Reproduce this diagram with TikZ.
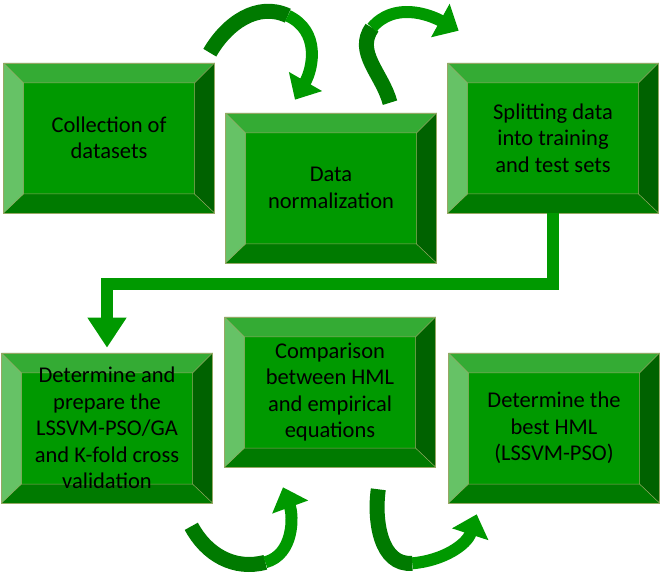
\documentclass[tikz,border=0pt]{standalone}
\usepackage{fontspec}
\setmainfont{Carlito}
\usetikzlibrary{arrows.meta, calc}

\definecolor{faceGreen}{RGB}{0,153,0}
\definecolor{topGreen}{RGB}{52,171,52}
\definecolor{leftGreen}{RGB}{102,194,102}
\definecolor{bottomGreen}{RGB}{0,122,0}
\definecolor{rightGreen}{RGB}{0,98,0}
\definecolor{rimOlive}{RGB}{150,168,100}
\definecolor{ribbonDark}{RGB}{0,122,0}

\tikzset{
  bevelbox/.style={minimum width=211pt, minimum height=150pt, inner sep=0pt,
    align=center, fill=faceGreen, draw=rimOlive, line width=0.6pt,
    font=\fontsize{22.5}{26.5}\selectfont,
    path picture={
      \coordinate (pA) at (path picture bounding box.north west);
      \coordinate (pB) at (path picture bounding box.north east);
      \coordinate (pC) at (path picture bounding box.south east);
      \coordinate (pD) at (path picture bounding box.south west);
      \coordinate (qA) at ($(pA)+(20,-20)$);
      \coordinate (qB) at ($(pB)+(-20,-20)$);
      \coordinate (qC) at ($(pC)+(-20,19)$);
      \coordinate (qD) at ($(pD)+(20,19)$);
      \fill[topGreen] (pA) -- (pB) -- (qB) -- (qA) -- cycle;
      \fill[rightGreen] (pB) -- (pC) -- (qC) -- (qB) -- cycle;
      \fill[bottomGreen] (pC) -- (pD) -- (qD) -- (qC) -- cycle;
      \fill[leftGreen] (pD) -- (pA) -- (qA) -- (qD) -- cycle;
      \draw[rimOlive, line width=0.5pt] (qA) rectangle (qC)
        (pA) -- (qA) (pB) -- (qB) (pC) -- (qC) (pD) -- (qD);
    }},
  ribbondark/.style={draw=ribbonDark, line width=15pt},
  ribbonlite/.style={draw=faceGreen, line width=12pt,
    -{Triangle[width=37pt,length=21pt]}},
  elbowarrow/.style={draw=faceGreen, line width=12pt,
    -{Triangle[width=37pt,length=30pt]}, shorten >=5pt},
}

\begin{document}
\begin{tikzpicture}[x=1pt,y=1pt]
  \useasboundingbox (0,0) rectangle (661,576);

  % Steps
  \node[bevelbox] (collect) at (109,438) {Collection of\\datasets};
  \node[bevelbox] (norm) at (331,388) {Data\\normalization};
  \node[bevelbox] (split) at (553,438) {Splitting data\\into training\\and test sets};
  \node[bevelbox] (prep) at (107,148) {Determine and\\prepare the\\LSSVM-PSO/GA\\and K-fold cross\\validation};
  \node[bevelbox] (compare) at (330,184) {Comparison\\between HML\\and empirical\\equations};
  \node[bevelbox] (best) at (554,148) {Determine the\\best HML\\(LSSVM-PSO)};

  % Ends of the curved arrows
  \coordinate (t1) at ($(collect.north east)+(-5,10)$);
  \coordinate (h1) at ($(norm.north)+(-36,13)$);
  \coordinate (t2) at ($(norm.north)+(59,10)$);
  \coordinate (h2) at ($(split.north west)+(11.5,32)$);
  \coordinate (t3) at ($(prep.south east)+(-21.5,-23)$);
  \coordinate (h3) at ($(compare.south)+(-47,-20)$);
  \coordinate (t4) at ($(compare.south east)+(-57.5,-22)$);
  \coordinate (h4) at ($(best.south west)+(28.5,-11)$);

  % Curved arrows
  \draw[ribbondark] (t1) to[out=60,in=155] ++(78,37) coordinate (m1);
  \draw[ribbonlite] (m1) to[out=-25,in=60,looseness=1.1] (h1);

  \draw[ribbondark] (t2) to[out=105,in=235] ++(-18,75) coordinate (m2);
  \draw[ribbonlite] (m2) to[out=50,in=151] (h2);

  \draw[ribbondark] (t3) to[out=-62,in=195] ++(74,-36) coordinate (m3);
  \draw[ribbonlite] (m3) to[out=15,in=-70] (h3);

  \draw[ribbondark] (t4) to[out=-98,in=185] ++(34,-74) coordinate (m4);
  \draw[ribbonlite] (m4) to[out=5,in=-108] (h4);

  % Split -> model
  \draw[elbowarrow] (split.south) -- ++(0,-70.5) -| (prep.north);
\end{tikzpicture}
\end{document}
